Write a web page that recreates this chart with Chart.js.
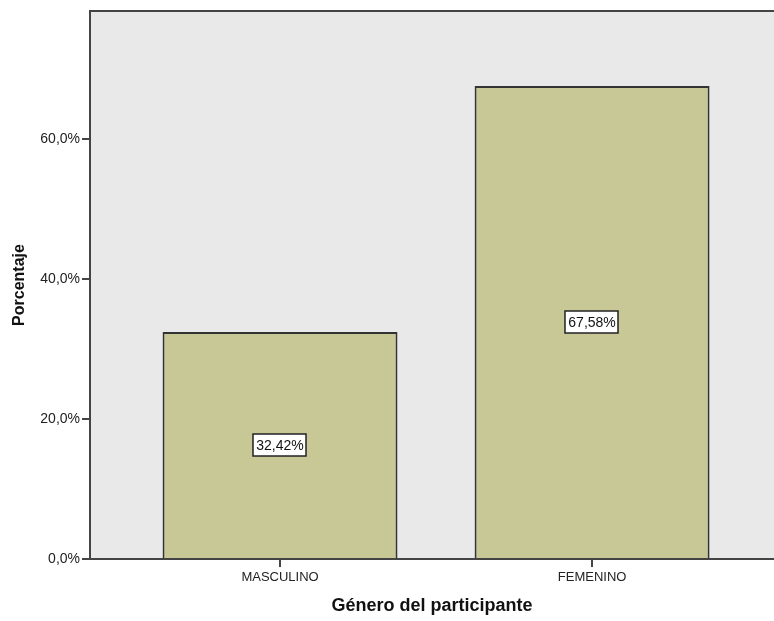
<!DOCTYPE html>
<html>
<head>
<meta charset="utf-8">
<script src="https://cdn.jsdelivr.net/npm/chart.js@4.4.1/dist/chart.umd.min.js"></script>
<style>
  html, body { margin: 0; padding: 0; background: #fff; overflow: hidden; }
  #wrap { width: 774px; height: 621px; }
</style>
</head>
<body>
<div id="wrap"><canvas id="graficoGenero"></canvas></div>
<script>
// datos del grafico
const categorias = ['MASCULINO', 'FEMENINO'];
const porcentajes = [32.42, 67.58];
const ticksY = [0, 20, 40, 60];

const fmt = (v, dec) => v.toFixed(dec).replace('.', ',') + '%';

// fondo gris del area y linea superior
const fondoPlugin = {
    id: 'fondo',
    beforeDraw(chart) {
        const { ctx, chartArea: a } = chart;
        ctx.save();
        ctx.fillStyle = '#e9e9e9';
        ctx.fillRect(a.left, a.top, a.right - a.left, a.bottom - a.top);
        ctx.strokeStyle = '#444';
        ctx.lineWidth = 2;
        ctx.beginPath();
        ctx.moveTo(a.left - 1, a.top);
        ctx.lineTo(a.right, a.top);
        ctx.stroke();
        ctx.restore();
    }
};

// etiquetas con caja blanca en el centro de cada barra
const etiquetasPlugin = {
    id: 'etiquetas',
    afterDatasetsDraw(chart) {
        const { ctx } = chart;
        const meta = chart.getDatasetMeta(0);
        ctx.save();
        ctx.font = '14px "Liberation Sans", Arial, sans-serif';
        ctx.textAlign = 'center';
        ctx.textBaseline = 'middle';
        meta.data.forEach((bar, i) => {
            const txt = fmt(porcentajes[i], 2);
            const w = ctx.measureText(txt).width + 6;
            const h = 22;
            const cx = bar.x;
            const cy = (bar.y + bar.base) / 2;
            ctx.fillStyle = '#fff';
            ctx.fillRect(Math.round(cx - w / 2), Math.round(cy - h / 2), Math.round(w), h);
            ctx.strokeStyle = '#222';
            ctx.lineWidth = 1.5;
            ctx.strokeRect(Math.round(cx - w / 2), Math.round(cy - h / 2), Math.round(w), h);
            ctx.fillStyle = '#111';
            ctx.fillText(txt, cx, cy + 1);
        });
        ctx.restore();
    }
};

const ctxGenero = document.getElementById('graficoGenero').getContext('2d');
const graficoGenero = new Chart(ctxGenero, {
    type: 'bar',
    data: {
        datasets: [{
            label: 'Porcentaje',
            data: categorias.map((c, i) => ({ x: i + 1, y: porcentajes[i] })),
            backgroundColor: '#c8c796',
            borderColor: '#333',
            borderWidth: 2,
            barPercentage: 0.753,
            categoryPercentage: 1
        }]
    },
    options: {
        responsive: true,
        maintainAspectRatio: false,
        animation: false,
        layout: { padding: { top: 11, right: 0, left: 0, bottom: 0 } },
        plugins: {
            legend: { display: false },
            tooltip: { enabled: false }
        },
        scales: {
            x: {
                type: 'linear',
                offset: false,
                min: 0.391,
                max: 2.583,
                afterBuildTicks: (scale) => {
                    scale.ticks = categorias.map((c, i) => ({ value: i + 1 }));
                },
                afterFit: (scale) => { scale.height = 62; },
                grid: {
                    offset: false,
                    drawOnChartArea: false,
                    drawTicks: true,
                    tickLength: 8,
                    color: '#444',
                    lineWidth: 2
                },
                border: { display: true, color: '#444', width: 2 },
                ticks: {
                    padding: 3,
                    color: '#222',
                    font: { family: '"Liberation Sans", Arial, sans-serif', size: 13 },
                    callback: (v) => categorias[v - 1] || ''
                },
                title: {
                    display: true,
                    text: 'Género del participante',
                    color: '#111',
                    padding: { top: 0, bottom: 4 },
                    font: { family: '"Liberation Sans", Arial, sans-serif', size: 18, weight: 'bold' }
                }
            },
            y: {
                min: 0,
                max: 78.3,
                afterBuildTicks: (scale) => {
                    scale.ticks = ticksY.map(v => ({ value: v }));
                },
                afterFit: (scale) => { scale.width = 90; },
                grid: {
                    drawOnChartArea: false,
                    drawTicks: true,
                    tickLength: 8,
                    color: '#444',
                    lineWidth: 2
                },
                border: { display: true, color: '#444', width: 2 },
                ticks: {
                    padding: 2,
                    color: '#222',
                    font: { family: '"Liberation Sans", Arial, sans-serif', size: 14 },
                    callback: (v) => fmt(v, 1)
                },
                title: {
                    display: true,
                    text: 'Porcentaje',
                    color: '#111',
                    padding: { top: 10, bottom: 0 },
                    font: { family: '"Liberation Sans", Arial, sans-serif', size: 16, weight: 'bold' }
                }
            }
        }
    },
    plugins: [fondoPlugin, etiquetasPlugin]
});
</script>
</body>
</html>
